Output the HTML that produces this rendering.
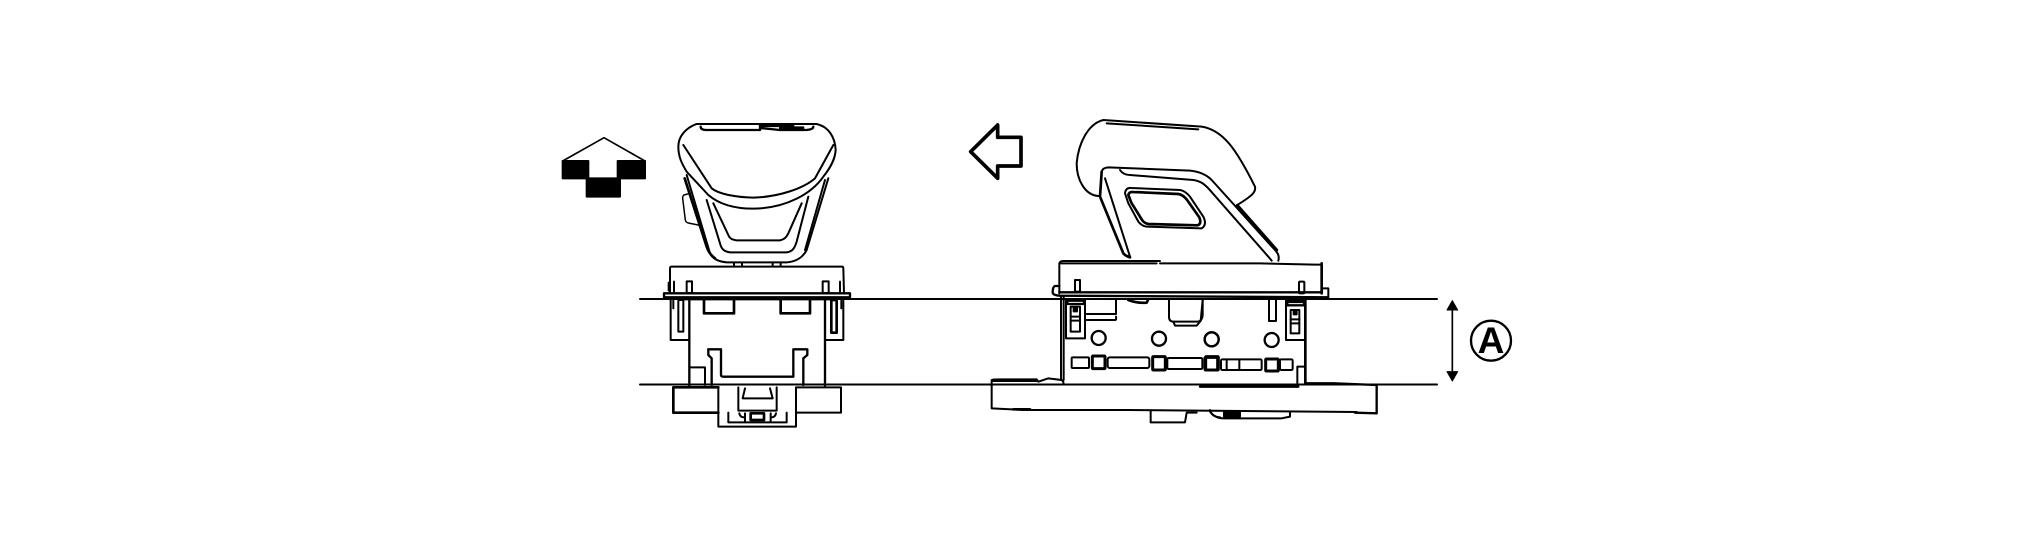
<!DOCTYPE html>
<html><head><meta charset="utf-8"><style>
html,body{margin:0;padding:0;background:#fff;width:2020px;height:544px;overflow:hidden}
svg{display:block}
path,rect,circle,line{fill:none;stroke:#000;stroke-linejoin:round;stroke-linecap:round}
</style></head><body>
<svg width="2020" height="544" viewBox="0 0 2020 544" xmlns="http://www.w3.org/2000/svg">
<rect x="0" y="0" width="2020" height="544" style="fill:#fff;stroke:none"/>
<line x1="640" y1="299" x2="1437" y2="299" stroke-width="2"/>
<line x1="640" y1="384.500" x2="1437" y2="384.500" stroke-width="2"/>

<!-- Knob front + up arrow -->
<g transform="translate(540,100) scale(0.33333)" stroke-width="6">
<path d="M68 183 L192 113 L315 183" stroke-width="5"/>
<rect x="68" y="183" width="77" height="52" style="fill:#000"/>
<rect x="233" y="183" width="82" height="52" style="fill:#000"/>
<rect x="140" y="235" width="100" height="55" style="fill:#000"/>
<path d="M470 72 H830 C865 80 885 110 887 150 C885 180 870 205 850 230 C815 280 740 325 640 326 C590 326 540 315 505 285 L440 215 C425 190 415 170 415 140 C415 110 435 85 470 72Z"/>
<path d="M430 135 L515 265 C540 285 600 292 640 293 C720 290 790 265 825 235 L880 135"/>
<path d="M482 80 Q482 90 500 90 H660 V73 M660 78 H760 M660 84 L720 90 H800 Q820 88 820 80" stroke-width="7"/>
<path d="M720 82 H790 V88 H720Z" style="fill:#000"/>
<path d="M440 225 L510 460 C520 480 540 485 560 487 H740 C770 485 790 470 800 450 L865 235"/>
<path d="M434 235 L500 440 C505 455 515 468 525 475" stroke-width="8"/>
<path d="M500 300 L540 430 C545 450 555 455 570 457 H740 C760 455 765 440 770 425 L805 290"/>
<path d="M520 310 L565 405 C570 418 580 420 590 421 H720 C735 418 740 410 745 400 L785 310"/>
<path d="M855 240 L795 450"/>
<path d="M450 280 L432 285 Q428 287 428 295 L436 360 Q438 368 445 369 L480 376" stroke-width="4.500"/>
<path d="M582 487 V500 M606 487 V500 M698 487 V500 M722 487 V500"/>
</g>

<!-- Front housing -->
<g transform="translate(640,260) scale(0.33333)" stroke-width="6">
<path d="M90 100 V25 Q90 20 95 20 H605 Q610 20 610 25 L612 100"/>
<rect x="72" y="100" width="558" height="12" stroke-width="7"/>
<path d="M115 117 H575" stroke-width="8"/>
<rect x="140" y="64" width="16" height="35"/>
<rect x="548" y="64" width="18" height="35"/>
<path d="M86 68 V92 M102 65 V95 M600 65 V95" />
<path d="M92 117 V240 H148 M610 117 V240 H555"/>
<path d="M100 118 V145 M604 122 V145"/>
<rect x="115" y="120" width="15" height="95"/>
<rect x="574" y="120" width="16" height="98" stroke-width="8"/>
<path d="M148 117 V378 M555 117 V378" stroke-width="7"/>
<path d="M192 120 V160 H282 V120 M422 120 V160 H510 V120" stroke-width="8"/>
<path d="M205 268 H243 V345 Q243 350 250 350 H460 V268 H502 V285 L490 295 V375" stroke-width="7"/>
<path d="M205 268 V285 L215 295 V375" stroke-width="7"/>
<path d="M150 322 H195 V375"/>
<path d="M235 382 H100 V458 H235" stroke-width="8"/>
<path d="M468 382 H603 V458 H468"/>
<path d="M235 382 V500 H468 V382"/>
<path d="M265 458 V487 H440 V458"/>
<path d="M295 382 V452 H410 V382" />
<path d="M315 385 L308 415 H398 L390 385"/>
<path d="M315 460 V485 M392 460 V485"/>
<path d="M298 460 Q300 472 312 472 M408 460 Q406 472 394 472"/>
<rect x="332" y="460" width="40" height="20" stroke-width="8"/>
</g>

<!-- Left arrow + side knob -->
<g transform="translate(960,100) scale(0.33333)" stroke-width="6">
<path d="M32 155 L113 75 V112 H183 V198 H113 V235 Z" stroke-width="11"/>
<path d="M415 288 C375 285 350 240 350 190 C355 130 385 70 430 60 L725 80 C790 90 830 150 885 260 C888 275 880 285 835 313"/>
<path d="M440 70 L715 88"/>
<path d="M425 215 Q428 203 445 202 L690 212 C720 215 740 225 755 240 L945 450 Q960 465 955 482"/>
<path d="M480 210 Q490 225 510 225 L700 240 C720 243 730 250 745 265 L925 470 L935 482"/>
<path d="M425 215 L420 290 L490 460 Q497 468 510 472" stroke-width="8"/>
<path d="M435 235 L510 470"/>
<path d="M832 316 L950 450" stroke-width="9"/>
<path d="M495 280 Q497 262 515 264 L660 270 Q675 272 690 290 L730 350 Q742 375 725 385 L560 380 Q545 378 535 365 L505 310 Z"/>
<path d="M505 285 Q507 275 520 276 L655 282 Q668 284 680 298 L718 352 Q726 372 712 376 L565 372 Q552 370 545 358 L514 308 Z" stroke-width="8"/>
</g>

<!-- Side housing -->
<g transform="translate(980,260) scale(0.33333)" stroke-width="6">
<path d="M238 100 V10 Q240 3 250 3 H540 M540 10 H840 L1005 14 H1026"/>
<path d="M243 10 H530"/>
<path d="M238 78 H225 Q218 80 218 98 Q220 106 240 107 L1044 112" stroke-width="7"/>
<path d="M238 97 H1026" stroke-width="7"/>
<rect x="285" y="60" width="15" height="35"/>
<path d="M243 110 V360 M251 110 V360"/>
<rect x="258" y="118" width="57" height="117"/>
<path d="M262 122 H312 V132 H262Z" stroke-width="7"/>
<rect x="272" y="140" width="28" height="75" stroke-width="6"/>
<path d="M272 170 H300 M272 182 H300"/>
<rect x="281" y="144" width="10" height="10" style="fill:#000"/>
<path d="M320 162 H408 V120 M320 180 H405 Q410 180 408 170"/>
<path d="M445 120 Q470 130 500 128 L505 118" stroke-width="8"/>
<path d="M567 120 V170 Q567 185 580 185 H655 Q668 180 668 165 V120 M580 185 L585 197 H650 L660 185"/>
<circle cx="356" cy="234" r="21" stroke-width="7"/>
<circle cx="537" cy="236" r="21" stroke-width="7"/>
<circle cx="695" cy="238" r="21" stroke-width="7"/>
<rect x="275" y="292" width="52" height="32" rx="3"/>
<rect x="337" y="288" width="38" height="38" rx="2" stroke-width="9"/>
<rect x="383" y="292" width="125" height="32" rx="6"/>
<rect x="518" y="290" width="38" height="40" rx="2" stroke-width="9"/>
<rect x="562" y="294" width="105" height="33" rx="4"/>
<rect x="677" y="290" width="38" height="40" rx="2" stroke-width="9"/>
<path d="M35 378 V360 Q40 358 60 358 H170 L175 365 L205 355 L245 360 Q252 365 250 372"/>
<path d="M40 362 H170" stroke-width="8"/>
<path d="M35 378 V445 L130 450 H440 L1130 456" stroke-width="6"/>
<path d="M100 448 H150" stroke-width="8"/>
<path d="M512 452 V487 H615 L620 458 H650 M690 450 Q695 470 720 472"/>
</g>
<g transform="translate(1200,260) scale(0.33333)" stroke-width="6">
<rect x="297" y="65" width="16" height="35" rx="3"/>
<path d="M365 10 V100" stroke-width="8"/>
<path d="M365 85 H385 V112"/>
<rect x="258" y="122" width="57" height="118"/>
<path d="M262 126 H312 V136 H262Z" stroke-width="7"/>
<rect x="272" y="150" width="26" height="70" stroke-width="6"/>
<path d="M272 178 H298 M272 190 H298"/>
<rect x="281" y="154" width="9" height="9" style="fill:#000"/>
<path d="M316 118 V372" stroke-width="8"/>
<path d="M207 120 V183 H228 V120"/>
<path d="M8 120 L2 183" />
<circle cx="35" cy="238" r="21" stroke-width="7"/>
<circle cx="215" cy="240" r="21" stroke-width="7"/>
<rect x="15" y="292" width="38" height="38" rx="2" stroke-width="9"/>
<rect x="63" y="298" width="122" height="32" rx="4"/>
<path d="M80 298 V330 M118 298 V330"/>
<rect x="197" y="297" width="38" height="36" rx="2" stroke-width="9"/>
<rect x="240" y="298" width="38" height="32" rx="4"/>
<path d="M292 375 V320 H315"/>
<path d="M0 380 H295" stroke-width="7"/>
<path d="M320 370 H400 L530 375 V460 L465 458" stroke-width="7"/>
<path d="M30 455 Q45 475 70 475 H245 L270 470 V455"/>
<rect x="72" y="456" width="48" height="14" style="fill:#000"/>
<line x1="757" y1="135" x2="757" y2="350" stroke-width="5"/>
<path d="M757 122 L741 150 H773 Z" style="fill:#000" stroke-width="3"/>
<path d="M741 335 H773 L757 363 Z" style="fill:#000" stroke-width="3"/>
<circle cx="873" cy="242" r="60" stroke-width="7"/>
</g>
<text x="1491" y="353" text-anchor="middle" font-family="'Liberation Sans',sans-serif" font-weight="700" font-size="37">A</text>
</svg>
</body></html>
